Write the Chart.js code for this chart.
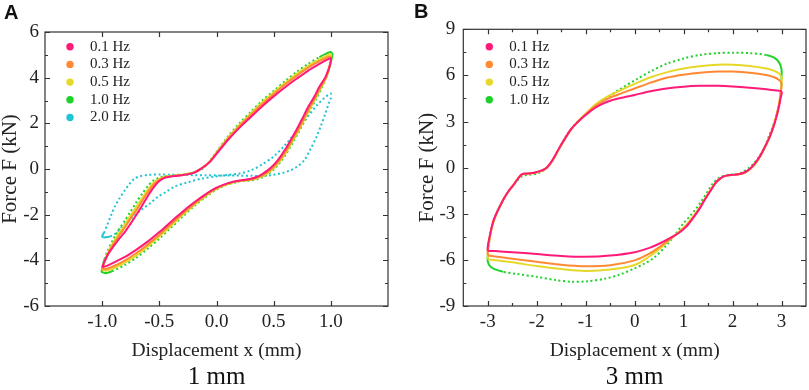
<!DOCTYPE html>
<html><head><meta charset="utf-8">
<script src="https://cdn.jsdelivr.net/npm/chart.js@4.4.1/dist/chart.umd.min.js"></script>
<style>
html,body{margin:0;padding:0;background:#fff;width:809px;height:390px;overflow:hidden}
canvas{position:absolute;top:0}
#cA{left:0}
#cB{left:409px}
.pl{position:absolute;font:bold 20px "Liberation Sans",Arial,sans-serif;color:#111;line-height:20px}
</style></head><body>
<canvas id="cA" width="400" height="390"></canvas>
<canvas id="cB" width="400" height="390"></canvas>
<div class="pl" style="left:4px;top:2px">A</div>
<div class="pl" style="left:414px;top:1px">B</div>
<script>
// ---------- Panel A (1 mm) ----------
const A_LABELS = ['0.1 Hz','0.3 Hz','0.5 Hz','1.0 Hz','2.0 Hz'];
const A_X_TICKS = [-1.0,-0.5,0,0.5,1.0];
const A_X_TICK_LABELS = ['-1.0','-0.5','0.0','0.5','1.0'];
const A_Y_TICKS = [-6,-4,-2,0,2,4,6];
const A_Y_TICK_LABELS = ['-6','-4','-2','0','2','4','6'];
const A_Y_MINOR = [-5,-3,-1,1,3,5];

const A_01 = [[-1.0,-4.3],[-0.98,-4.05],[-0.95,-3.75],[-0.9,-3.38],[-0.85,-3.05],[-0.8,-2.75],[-0.75,-2.38],[-0.7,-2.0],[-0.65,-1.6],[-0.6,-1.18],[-0.55,-0.8],[-0.5,-0.53],[-0.45,-0.38],[-0.4,-0.33],[-0.3,-0.27],[-0.2,-0.17],[-0.13,0.03],[-0.06,0.3],[0.0,0.66],[0.1,1.27],[0.2,1.8],[0.3,2.28],[0.4,2.75],[0.5,3.18],[0.6,3.58],[0.7,3.95],[0.8,4.3],[0.9,4.6],[0.96,4.77],[1.0,4.85],
[0.995,4.6],[0.98,4.35],[0.95,4.0],[0.9,3.6],[0.85,3.12],[0.8,2.7],[0.75,2.2],[0.7,1.72],[0.65,1.28],[0.6,0.85],[0.55,0.48],[0.5,0.18],[0.45,-0.05],[0.4,-0.22],[0.35,-0.35],[0.3,-0.43],[0.2,-0.5],[0.1,-0.62],[0.0,-0.82],[-0.1,-1.12],[-0.2,-1.48],[-0.3,-1.88],[-0.4,-2.32],[-0.5,-2.76],[-0.6,-3.17],[-0.7,-3.53],[-0.8,-3.85],[-0.9,-4.1],[-0.96,-4.24],[-1.0,-4.3]];

const A_03 = [[-1.0,-4.38],[-0.98,-4.08],[-0.95,-3.72],[-0.9,-3.28],[-0.85,-2.9],[-0.8,-2.55],[-0.75,-2.15],[-0.7,-1.8],[-0.65,-1.4],[-0.6,-1.02],[-0.55,-0.68],[-0.5,-0.47],[-0.45,-0.36],[-0.4,-0.32],[-0.3,-0.26],[-0.2,-0.16],[-0.13,0.03],[-0.06,0.32],[0.0,0.7],[0.1,1.33],[0.2,1.88],[0.3,2.37],[0.4,2.85],[0.5,3.28],[0.6,3.7],[0.7,4.08],[0.8,4.43],[0.9,4.72],[0.96,4.87],[1.0,4.93],
[0.995,4.65],[0.98,4.38],[0.955,4.0],[0.91,3.58],[0.86,3.1],[0.81,2.66],[0.76,2.16],[0.71,1.68],[0.66,1.24],[0.61,0.81],[0.56,0.44],[0.51,0.14],[0.46,-0.09],[0.41,-0.26],[0.35,-0.39],[0.3,-0.46],[0.2,-0.52],[0.1,-0.64],[0.0,-0.85],[-0.1,-1.17],[-0.2,-1.55],[-0.3,-1.97],[-0.4,-2.42],[-0.5,-2.88],[-0.6,-3.3],[-0.7,-3.68],[-0.8,-4.0],[-0.9,-4.26],[-0.96,-4.37],[-1.0,-4.38]];

const A_05 = [[-1.0,-4.42],[-0.98,-4.05],[-0.95,-3.66],[-0.9,-3.2],[-0.85,-2.78],[-0.8,-2.42],[-0.75,-2.02],[-0.7,-1.66],[-0.65,-1.27],[-0.6,-0.9],[-0.55,-0.6],[-0.5,-0.43],[-0.45,-0.34],[-0.4,-0.31],[-0.3,-0.25],[-0.2,-0.15],[-0.13,0.03],[-0.06,0.33],[0.0,0.72],[0.1,1.37],[0.2,1.93],[0.3,2.43],[0.4,2.92],[0.5,3.35],[0.6,3.77],[0.7,4.16],[0.8,4.51],[0.9,4.8],[0.96,4.95],[1.0,5.02],
[1.0,4.7],[0.985,4.4],[0.96,4.0],[0.915,3.57],[0.865,3.08],[0.815,2.63],[0.765,2.13],[0.715,1.65],[0.665,1.21],[0.615,0.78],[0.565,0.41],[0.515,0.11],[0.465,-0.12],[0.415,-0.29],[0.355,-0.41],[0.3,-0.48],[0.2,-0.53],[0.1,-0.66],[0.0,-0.87],[-0.1,-1.2],[-0.2,-1.6],[-0.3,-2.03],[-0.4,-2.5],[-0.5,-2.96],[-0.6,-3.39],[-0.7,-3.78],[-0.8,-4.1],[-0.9,-4.35],[-0.96,-4.45],[-1.0,-4.42]];

const A_10 = [[-1.0,-4.35],[-0.98,-3.95],[-0.95,-3.55],[-0.9,-3.05],[-0.85,-2.62],[-0.8,-2.25],[-0.75,-1.85],[-0.7,-1.45],[-0.65,-1.08],[-0.6,-0.75],[-0.55,-0.5],[-0.5,-0.38],[-0.45,-0.32],[-0.4,-0.3],[-0.3,-0.25],[-0.2,-0.15],[-0.12,0.02],[-0.06,0.35],[0.0,0.75],[0.1,1.42],[0.2,2.0],[0.3,2.5],[0.4,3.0],[0.5,3.42],[0.6,3.85],[0.7,4.25],[0.8,4.6],[0.9,4.9],[0.96,5.05],[1.0,5.12],[1.015,5.0],
[1.0,4.7],[0.985,4.4],[0.96,4.0],[0.92,3.55],[0.87,3.05],[0.82,2.6],[0.77,2.1],[0.72,1.62],[0.67,1.18],[0.62,0.75],[0.57,0.38],[0.52,0.08],[0.47,-0.15],[0.42,-0.32],[0.36,-0.44],[0.3,-0.5],[0.2,-0.55],[0.1,-0.68],[0.0,-0.9],[-0.1,-1.25],[-0.2,-1.65],[-0.3,-2.1],[-0.4,-2.58],[-0.5,-3.05],[-0.6,-3.48],[-0.7,-3.88],[-0.8,-4.2],[-0.9,-4.45],[-0.96,-4.55],[-1.005,-4.5],[-1.0,-4.35]];

const A_20 = [[-0.99,-3.0],[-0.93,-2.95],[-0.89,-2.85],[-0.85,-2.65],[-0.8,-2.4],[-0.72,-2.05],[-0.66,-1.8],[-0.58,-1.5],[-0.51,-1.21],[-0.44,-1.0],[-0.37,-0.78],[-0.25,-0.58],[-0.13,-0.42],[0.0,-0.32],[0.1,-0.26],[0.2,-0.2],[0.3,-0.06],[0.4,0.2],[0.5,0.55],[0.6,1.05],[0.7,1.65],[0.8,2.3],[0.88,2.8],[0.94,3.1],[0.98,3.25],[1.0,3.3],
[1.0,3.1],[0.98,2.85],[0.95,2.4],[0.91,1.85],[0.87,1.35],[0.82,0.85],[0.77,0.4],[0.71,0.12],[0.65,-0.05],[0.58,-0.17],[0.5,-0.25],[0.42,-0.3],[0.3,-0.3],[0.2,-0.29],[0.1,-0.28],[0.0,-0.28],[-0.1,-0.27],[-0.2,-0.27],[-0.3,-0.26],[-0.4,-0.25],[-0.5,-0.24],[-0.6,-0.26],[-0.67,-0.32],[-0.72,-0.43],[-0.76,-0.65],[-0.8,-0.92],[-0.85,-1.3],[-0.89,-1.65],[-0.92,-2.0],[-0.95,-2.38],[-0.98,-2.75],[-1.0,-2.95],[-0.99,-3.0]];

// ---------- Panel B (3 mm) ----------
const B_LABELS = ['0.1 Hz','0.3 Hz','0.5 Hz','1.0 Hz'];
const B_X_TICKS = [-3,-2,-1,0,1,2,3];
const B_X_TICK_LABELS = ['-3','-2','-1','0','1','2','3'];
const B_X_MINOR = [-2.5,-1.5,-0.5,0.5,1.5,2.5];
const B_Y_TICKS = [-9,-6,-3,0,3,6,9];
const B_Y_TICK_LABELS = ['-9','-6','-3','0','3','6','9'];
const B_Y_MINOR = [-7.5,-4.5,-1.5,1.5,4.5,7.5];

const B_01 = [[-3.0,-5.4],[-3.0,-5.1],[-2.97,-4.6],[-2.93,-4.0],[-2.88,-3.4],[-2.82,-2.95],[-2.75,-2.5],[-2.67,-2.0],[-2.58,-1.55],[-2.48,-1.15],[-2.4,-0.8],[-2.33,-0.5],[-2.28,-0.4],[-2.2,-0.38],[-2.1,-0.35],[-2.0,-0.28],[-1.9,-0.18],[-1.8,0.0],[-1.72,0.3],[-1.65,0.65],[-1.58,1.05],[-1.5,1.5],[-1.4,2.02],[-1.3,2.5],[-1.2,2.85],[-1.1,3.15],[-1.0,3.42],[-0.85,3.8],[-0.7,4.08],[-0.5,4.35],[-0.3,4.52],[0.0,4.73],[0.3,4.95],[0.65,5.15],[1.0,5.27],[1.33,5.32],[1.7,5.32],[2.0,5.28],[2.35,5.2],[2.69,5.1],[2.85,5.03],[3.0,4.95],
[2.98,4.5],[2.95,4.0],[2.9,3.35],[2.84,2.7],[2.76,2.02],[2.66,1.35],[2.56,0.75],[2.46,0.3],[2.36,-0.05],[2.25,-0.3],[2.12,-0.43],[2.0,-0.47],[1.88,-0.52],[1.8,-0.6],[1.72,-0.78],[1.65,-1.0],[1.58,-1.35],[1.5,-1.75],[1.42,-2.15],[1.33,-2.65],[1.2,-3.25],[1.05,-3.85],[0.9,-4.25],[0.7,-4.62],[0.5,-4.95],[0.3,-5.22],[0.0,-5.5],[-0.5,-5.72],[-1.0,-5.8],[-1.5,-5.74],[-2.0,-5.62],[-2.5,-5.5],[-2.85,-5.43],[-3.0,-5.4]];

const B_03 = [[-3.0,-5.7],[-3.0,-5.3],[-2.97,-4.7],[-2.93,-4.05],[-2.88,-3.45],[-2.82,-2.98],[-2.75,-2.5],[-2.67,-2.0],[-2.58,-1.55],[-2.48,-1.13],[-2.4,-0.78],[-2.33,-0.5],[-2.28,-0.42],[-2.2,-0.39],[-2.1,-0.36],[-2.0,-0.3],[-1.9,-0.2],[-1.8,-0.02],[-1.72,0.28],[-1.65,0.62],[-1.58,1.02],[-1.5,1.47],[-1.4,2.0],[-1.3,2.48],[-1.2,2.85],[-1.1,3.18],[-1.0,3.48],[-0.85,3.9],[-0.7,4.22],[-0.5,4.55],[-0.3,4.8],[0.0,5.15],[0.3,5.5],[0.65,5.85],[1.0,6.05],[1.33,6.18],[1.7,6.25],[2.0,6.25],[2.35,6.18],[2.69,6.03],[2.85,5.88],[2.95,5.7],[3.0,5.5],
[2.99,5.0],[2.96,4.3],[2.91,3.55],[2.85,2.85],[2.77,2.1],[2.67,1.4],[2.57,0.78],[2.47,0.3],[2.37,-0.05],[2.26,-0.3],[2.13,-0.43],[2.0,-0.47],[1.88,-0.52],[1.8,-0.6],[1.72,-0.78],[1.65,-1.0],[1.58,-1.33],[1.5,-1.73],[1.42,-2.13],[1.33,-2.62],[1.2,-3.2],[1.05,-3.8],[0.9,-4.22],[0.75,-4.58],[0.5,-5.18],[0.3,-5.6],[0.0,-6.03],[-0.5,-6.35],[-1.0,-6.42],[-1.5,-6.32],[-2.0,-6.12],[-2.5,-5.92],[-2.85,-5.78],[-3.0,-5.7]];

const B_05 = [[-3.0,-5.95],[-3.0,-5.45],[-2.97,-4.8],[-2.93,-4.1],[-2.88,-3.5],[-2.82,-3.0],[-2.75,-2.52],[-2.67,-2.02],[-2.58,-1.56],[-2.48,-1.13],[-2.4,-0.78],[-2.33,-0.5],[-2.27,-0.42],[-2.2,-0.4],[-2.1,-0.37],[-2.0,-0.31],[-1.9,-0.21],[-1.8,-0.03],[-1.72,0.27],[-1.65,0.6],[-1.58,1.0],[-1.5,1.45],[-1.4,1.98],[-1.3,2.47],[-1.2,2.86],[-1.1,3.2],[-1.0,3.52],[-0.85,3.98],[-0.7,4.35],[-0.5,4.72],[-0.3,5.02],[0.0,5.45],[0.3,5.85],[0.65,6.2],[1.0,6.45],[1.33,6.6],[1.7,6.7],[2.0,6.7],[2.35,6.62],[2.69,6.45],[2.85,6.3],[2.95,6.12],[3.0,5.9],
[3.0,5.4],[2.97,4.6],[2.92,3.7],[2.86,2.95],[2.78,2.15],[2.68,1.42],[2.58,0.8],[2.48,0.3],[2.37,-0.05],[2.26,-0.3],[2.13,-0.43],[2.0,-0.47],[1.88,-0.52],[1.8,-0.6],[1.72,-0.78],[1.65,-1.0],[1.58,-1.3],[1.5,-1.7],[1.42,-2.1],[1.33,-2.58],[1.2,-3.15],[1.05,-3.75],[0.9,-4.2],[0.75,-4.6],[0.5,-5.3],[0.3,-5.78],[0.0,-6.33],[-0.5,-6.63],[-1.0,-6.72],[-1.5,-6.6],[-2.0,-6.4],[-2.5,-6.16],[-2.85,-6.02],[-3.0,-5.95]];

const B_10 = [[-3.0,-5.75],[-2.98,-5.1],[-2.95,-4.4],[-2.9,-3.7],[-2.84,-3.1],[-2.77,-2.6],[-2.69,-2.1],[-2.6,-1.65],[-2.5,-1.22],[-2.4,-0.85],[-2.31,-0.58],[-2.24,-0.5],[-2.15,-0.46],[-2.05,-0.42],[-1.95,-0.33],[-1.85,-0.17],[-1.77,0.05],[-1.7,0.35],[-1.62,0.78],[-1.54,1.25],[-1.45,1.78],[-1.35,2.3],[-1.23,2.78],[-1.1,3.2],[-0.95,3.6],[-0.8,3.98],[-0.64,4.38],[-0.3,5.1],[0.04,5.75],[0.35,6.3],[0.65,6.75],[1.0,7.1],[1.33,7.33],[1.7,7.45],[2.01,7.48],[2.35,7.45],[2.69,7.33],[2.85,7.15],[2.95,6.85],[3.0,6.4],[3.0,5.8],
[2.99,5.1],[2.96,4.3],[2.9,3.45],[2.83,2.75],[2.75,2.1],[2.66,1.4],[2.56,0.8],[2.44,0.3],[2.32,-0.05],[2.2,-0.3],[2.05,-0.42],[1.92,-0.46],[1.8,-0.55],[1.7,-0.72],[1.6,-1.02],[1.52,-1.4],[1.44,-1.82],[1.36,-2.2],[1.26,-2.65],[1.13,-3.15],[0.99,-3.65],[0.85,-4.25],[0.65,-5.05],[0.4,-5.85],[0.2,-6.25],[0.0,-6.55],[-0.3,-6.95],[-0.6,-7.22],[-0.98,-7.4],[-1.3,-7.42],[-1.6,-7.32],[-2.0,-7.1],[-2.4,-6.92],[-2.68,-6.78],[-2.85,-6.62],[-2.95,-6.42],[-3.0,-6.1],[-3.0,-5.75]];

// ---------- styling ----------
const COLORS = ['#ff1a78','#ff8a33','#e6d82a','#1ed22a','#22c3d3'];
const SERIF = '"Liberation Serif","Times New Roman",serif';
const DOT = [2,2.6];

function toXY(arr){ return arr.map(p => ({x:p[0], y:p[1]})); }

function ds(label, data, color, solidTest){
  const d = {label, data: toXY(data), borderColor: color, backgroundColor: color,
    borderWidth: 2, pointRadius: 0, showLine: true, tension: 0.3, fill: false};
  if (solidTest) {
    d.segment = { borderDash: ctx => (solidTest(ctx.p0.parsed) && solidTest(ctx.p1.parsed)) ? [] : DOT };
  }
  return d;
}

const framePlugin = {
  id: 'frame',
  afterDraw(chart, args, o) {
    const {left, right, top, bottom} = chart.chartArea;
    const c = chart.ctx, xs = chart.scales.x, ys = chart.scales.y;
    c.save();
    c.strokeStyle = '#333'; c.lineWidth = 1.2;
    c.strokeRect(left, top, right - left, bottom - top);
    c.beginPath();
    const vx = (vals, len) => vals.forEach(v => { const p = Math.round(xs.getPixelForValue(v)) + 0.5;
      c.moveTo(p, bottom); c.lineTo(p, bottom - len); c.moveTo(p, top); c.lineTo(p, top + len); });
    const vy = (vals, len) => vals.forEach(v => { const p = Math.round(ys.getPixelForValue(v)) + 0.5;
      c.moveTo(left, p); c.lineTo(left + len, p); c.moveTo(right, p); c.lineTo(right - len, p); });
    vx(o.xMajor, 5); vx(o.xMinor, 3); vy(o.yMajor, 5); vy(o.yMinor, 3);
    c.stroke();
    c.restore();
  }
};

const legendPlugin = {
  id: 'inlegend',
  afterDraw(chart, args, o) {
    const c = chart.ctx;
    c.save();
    c.font = '15px ' + SERIF; c.textBaseline = 'middle'; c.textAlign = 'left';
    chart.data.datasets.forEach((d, i) => {
      const y = o.y + i * o.dy;
      c.fillStyle = d.borderColor;
      c.beginPath(); c.arc(o.x, y, 3.7, 0, Math.PI * 2); c.fill();
      c.fillStyle = '#222';
      c.fillText(d.label, o.tx, y);
    });
    c.restore();
  }
};

function makeChart(id, cfg) {
  return new Chart(document.getElementById(id), {
    type: 'scatter',
    data: { datasets: cfg.datasets },
    options: {
      responsive: false, animation: false, devicePixelRatio: 1,
      layout: { padding: cfg.pad },
      plugins: {
        legend: { display: false }, tooltip: { enabled: false },
        title: { display: true, position: 'bottom', fullSize: false, text: cfg.caption,
          color: '#111', padding: 0, font: { family: SERIF, size: 25, weight: 'normal', lineHeight: 1 } },
        frame: cfg.frame,
        inlegend: cfg.legend
      },
      scales: {
        x: {
          type: 'linear', min: cfg.xMin, max: cfg.xMax,
          afterBuildTicks: s => { s.ticks = cfg.xTicks.map(v => ({value: v})); },
          afterFit: s => { s.height = 59; },
          grid: { display: false, drawTicks: false }, border: { display: false },
          ticks: { color: '#222', padding: 5, maxRotation: 0, autoSkip: false,
            font: { family: SERIF, size: 19 }, callback: (v, i) => cfg.xLabels[i] },
          title: { display: true, text: 'Displacement x (mm)', color: '#222',
            font: { family: SERIF, size: 19.5 }, padding: { top: 0, bottom: 2 } }
        },
        y: {
          type: 'linear', min: cfg.yMin, max: cfg.yMax,
          afterBuildTicks: s => { s.ticks = cfg.yTicks.map(v => ({value: v})); },
          afterFit: s => { s.width = cfg.yWidth; },
          grid: { display: false, drawTicks: false }, border: { display: false },
          ticks: { color: '#222', padding: cfg.yPad, autoSkip: false,
            font: { family: SERIF, size: 19 }, callback: (v, i) => cfg.yLabels[i] },
          title: { display: true, text: 'Force F (kN)', color: '#222',
            font: { family: SERIF, size: 21, lineHeight: 1 }, padding: { top: cfg.yTitlePad, bottom: 0 } }
        }
      }
    },
    plugins: [framePlugin, legendPlugin]
  });
}

makeChart('cA', {
  datasets: [
    ds(A_LABELS[0], A_01, COLORS[0]),
    ds(A_LABELS[1], A_03, COLORS[1]),
    ds(A_LABELS[2], A_05, COLORS[2]),
    ds(A_LABELS[3], A_10, COLORS[3], p => (p.x < -0.8 && p.y < -3.9) || (p.x > 0.85 && p.y > 3.8)),
    ds(A_LABELS[4], A_20, COLORS[4], p => (p.x < -0.9 && p.y < -2.7))
  ],
  pad: { left: 0, right: 12, top: 32, bottom: 0 },
  caption: '1 mm',
  xMin: -1.5, xMax: 1.5, yMin: -6, yMax: 6,
  xTicks: A_X_TICKS, xLabels: A_X_TICK_LABELS,
  yTicks: A_Y_TICKS, yLabels: A_Y_TICK_LABELS,
  yWidth: 45, yPad: 6, yTitlePad: 0,
  frame: { xMajor: A_X_TICKS, xMinor: [], yMajor: A_Y_TICKS, yMinor: A_Y_MINOR },
  legend: { x: 70, tx: 90, y: 46.7, dy: 17.7 }
});

makeChart('cB', {
  datasets: [
    ds(B_LABELS[0], B_01, COLORS[0]),
    ds(B_LABELS[1], B_03, COLORS[1]),
    ds(B_LABELS[2], B_05, COLORS[2]),
    ds(B_LABELS[3], B_10, COLORS[3], p => (p.x > 2.4 && p.y > 5.7) || (p.x < -2.4 && p.y < -5.7))
  ],
  pad: { left: 0, right: 3, top: 29.3, bottom: 0 },
  caption: '3 mm',
  xMin: -3.5, xMax: 3.5, yMin: -9, yMax: 9,
  xTicks: B_X_TICKS, xLabels: B_X_TICK_LABELS,
  yTicks: B_Y_TICKS, yLabels: B_Y_TICK_LABELS,
  yWidth: 54.3, yPad: 8, yTitlePad: 7.5,
  frame: { xMajor: B_X_TICKS, xMinor: B_X_MINOR, yMajor: B_Y_TICKS, yMinor: B_Y_MINOR },
  legend: { x: 80.3, tx: 100.3, y: 46.7, dy: 17.7 }
});
</script>
</body></html>
